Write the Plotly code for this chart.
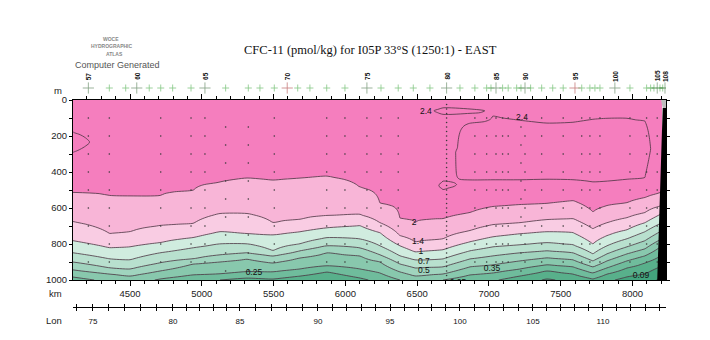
import numpy as np
import plotly.graph_objects as go

# ---------------- data ----------------
title_text = "CFC-11 (pmol/kg) for I05P 33°S (1250:1) - EAST"

# distance along the section (km) of the columns where isoline depths were read
col_km = [4103, 4361, 4500, 4709, 4939, 5127, 5315, 5496, 5684, 5872, 6102, 6241, 6380,
          6485, 6680, 6868, 7028, 7216, 7404, 7585, 7724, 7822, 7961, 8086, 8205]

# contour levels (pmol/kg)
levels = [0.05, 0.09, 0.15, 0.25, 0.35, 0.5, 0.7, 1.0, 1.4, 2.0, 2.4]

# depth (m) of each isoline at each column (values > 1000 lie below the plotted range)
d_2_0 = [514, 531, 536, 531, 503, 458, 436, 447, 436, 425, 486, 575, 659, 682, 659, 626, 592, 581, 575, 559, 620, 587, 570, 542, 514]
d_1_4 = [676, 743, 732, 698, 687, 631, 631, 682, 665, 643, 637, 682, 754, 788, 771, 726, 693, 682, 665, 659, 715, 682, 654, 626, 587]
d_1_0 = [782, 821, 816, 793, 765, 732, 743, 749, 732, 710, 698, 737, 810, 844, 832, 788, 760, 743, 732, 737, 799, 754, 721, 682, 631]
d_0_7 = [849, 883, 888, 849, 821, 799, 799, 838, 799, 765, 771, 810, 866, 888, 883, 838, 816, 805, 793, 805, 855, 810, 771, 732, 682]
d_0_5 = [900, 933, 939, 905, 883, 860, 849, 866, 838, 810, 821, 860, 911, 933, 927, 883, 866, 849, 838, 849, 894, 855, 816, 782, 726]
d_0_35 = [944, 967, 978, 950, 911, 900, 883, 905, 877, 849, 866, 900, 955, 978, 967, 927, 916, 894, 877, 888, 927, 894, 855, 827, 771]
d_0_25 = [983, 1011, 1022, 994, 972, 967, 955, 955, 939, 922, 939, 961, 1000, 1011, 1000, 972, 961, 939, 916, 927, 961, 933, 894, 866, 810]
d_0_15 = [1034, 1062, 1073, 1050, 1017, 1000, 989, 994, 978, 955, 989, 1017, 1050, 1062, 1050, 1017, 1006, 978, 950, 967, 994, 967, 933, 905, 860]
d_0_09 = [1089, 1117, 1129, 1106, 1067, 1050, 1039, 1045, 1028, 1006, 1039, 1067, 1101, 1112, 1101, 1067, 1056, 1022, 994, 1011, 1034, 1011, 983, 967, 922]
d_0_05 = [1145, 1173, 1184, 1162, 1117, 1101, 1089, 1095, 1078, 1056, 1089, 1117, 1151, 1162, 1151, 1117, 1106, 1073, 1045, 1062, 1078, 1056, 1028, 1006, 978]

# subsurface cores with CFC-11 > 2.4 (top / bottom depth in m, None = no core)
N = None
core_top = [179, N, N, N, N, N, N, N, N, N, N, N, N, N, 453, 128, 89, 112, 128, 123, 106, 101, 101, 117, N]
core_bot = [291, N, N, N, N, N, N, N, N, N, N, N, N, N, 497, 447, 447, 447, 441, 447, 458, 453, 441, 430, N]
core_peak = [2.7, N, N, N, N, N, N, N, N, N, N, N, N, N, 2.5, 2.55, 2.55, 2.55, 2.55, 2.55, 2.55, 2.55, 2.55, 2.6, N]
lens_top = [N] * 14 + [45, 50] + [N] * 9
lens_bot = [N] * 14 + [78, 73] + [N] * 9
surface_value = 2.3

# contour labels
label_text = ["2.4", "2.4", "2", "1.4", "1", "0.7", "0.5", "0.35", "0.25", "0.25", "0.09"]
label_km = [6561, 7230, 6478, 6506, 6526, 6547, 6547, 7021, 5363, 6784, 8059]
label_depth = [67, 101, 682, 787, 844, 899, 952, 939, 961, 1016, 978]

# stations along the track
station_num = list(range(57, 109))
station_km = [4210, 4356, 4470, 4547, 4634, 4714, 4797, 4925, 5022, 5166, 5324, 5405, 5505, 5595,
              5668, 5753, 5870, 5997, 6150, 6248, 6368, 6473, 6589, 6705, 6798, 6902, 6984, 7014,
              7049, 7095, 7134, 7193, 7223, 7251, 7290, 7367, 7444, 7517, 7599, 7646, 7703, 7738,
              7773, 7877, 7982, 8098, 8126, 8149, 8172, 8191, 8210, 8226]
labelled_stations = [57, 60, 65, 70, 75, 80, 85, 90, 95, 100, 105, 108]
red_stations = [70, 95]

# bottle samples (station numbers) and their depths (m)
sampled_a = [57, 58, 62, 64, 65, 69, 73, 74, 75, 76, 77, 82, 83, 85, 86, 87, 90, 92, 94, 96, 97, 99, 101, 102, 105]
sampled_b = [66, 67, 89]
depths_a = [100, 200, 300, 400, 500, 600, 700, 800, 900]
depths_b = [150, 250, 350, 450, 550, 650, 750, 850, 950]
dense_station = 80
dense_depths = [25, 50, 75, 100, 125, 150, 175, 200, 225, 250, 275, 300, 325, 350, 375, 400,
                425, 450, 475, 500, 525, 550, 575, 600, 625, 650, 675, 700, 725, 750, 775, 800,
                825, 850, 875, 900, 925, 950, 975, 1000]

# bottom topography at the east end (km, m)
bottom_km = [8210, 8172, 8260, 8260]
bottom_depth = [45, 1000, 1000, 45]
cap_km = [8198, 8260, 8260, 8210]
cap_depth = [0, 0, 45, 45]

# longitude axis (degrees E) and its position along the section (km)
lon_labels = ["75", "80", "85", "90", "95", "100", "105", "110"]
lon_vals = [75, 80, 85, 90, 95, 100, 105, 110]
lon_km = [4242, 4799, 5266, 5809, 6311, 6798, 7306, 7794]

x_range = [4103, 8233]

band_colors = ["#36986F", "#43A47D", "#58B08B", "#6FBC9C", "#88C8AD", "#A0D4BE",
               "#B8E0CE", "#D0ECDF", "#F9CCE3", "#F8B5D7", "#F57EBE", "#F57EBE"]

# ---------------- build the gridded field ----------------
iso_depths = [d_2_0, d_1_4, d_1_0, d_0_7, d_0_5, d_0_35, d_0_25, d_0_15, d_0_09, d_0_05]
iso_values = [2.0, 1.4, 1.0, 0.7, 0.5, 0.35, 0.25, 0.15, 0.09, 0.05]
depth_grid = np.arange(0, 1001, 10, dtype=float)


def column_profile(j):
    kd, kv = [0.0], [surface_value]
    cores = []
    if lens_top[j] is not None:
        cores.append((lens_top[j], lens_bot[j], 2.5))
    if core_top[j] is not None:
        cores.append((core_top[j], core_bot[j], core_peak[j]))
    for k, (t, b, p) in enumerate(cores):
        if k > 0:
            kd.append((cores[k - 1][1] + t) / 2.0)
            kv.append(surface_value)
        kd += [t, (t + b) / 2.0, b]
        kv += [2.4, p, 2.4]
    for dep, val in zip(iso_depths, iso_values):
        kd.append(dep[j])
        kv.append(val)
    kd.append(iso_depths[-1][j] + 300)
    kv.append(0.0)
    return np.interp(depth_grid, kd, kv)


z = np.column_stack([column_profile(j) for j in range(len(col_km))])
ext_levels = [0.0] + levels + [3.0]
z_idx = np.interp(z, ext_levels, np.arange(len(ext_levels), dtype=float))

nb = len(band_colors)
colorscale = [[k / (nb - 1), c] for k, c in enumerate(band_colors)]

# ---------------- figure ----------------
FIG_W, FIG_H = 710, 340
L, R, T, B = 73, 666, 60, 320   # paper area in pixels


def px_x(px):
    return (px - L) / (R - L)


def px_y(py):
    return (B - py) / (B - T)


fig = go.Figure()

fig.add_trace(go.Contour(
    x=col_km, y=depth_grid, z=z_idx,
    autocontour=False,
    contours=dict(start=1, end=len(levels), size=1, coloring="fill", showlines=True),
    colorscale=colorscale, showscale=False,
    line=dict(color="#4a3441", width=0.8, smoothing=0.8),
    hoverinfo="skip",
))

# bottle sample dots
st_km = dict(zip(station_num, station_km))
dx, dy = [], []
for s in sampled_a:
    dx += [st_km[s]] * len(depths_a)
    dy += depths_a
for s in sampled_b:
    dx += [st_km[s]] * len(depths_b)
    dy += depths_b
dx += [st_km[dense_station]] * len(dense_depths)
dy += dense_depths
fig.add_trace(go.Scatter(x=dx, y=dy, mode="markers",
                         marker=dict(size=1.6, color="#3a3a3a", line=dict(width=0)),
                         hoverinfo="skip"))

# contour labels
fig.add_trace(go.Scatter(x=label_km, y=label_depth, mode="text", text=label_text,
                         textfont=dict(family="Liberation Sans", size=8.5, color="#111"),
                         cliponaxis=True, hoverinfo="skip"))

# topography
fig.add_trace(go.Scatter(x=cap_km, y=cap_depth, fill="toself", mode="none",
                         fillcolor="#BDBDBD", hoverinfo="skip"))
fig.add_trace(go.Scatter(x=bottom_km, y=bottom_depth, fill="toself", mode="none",
                         fillcolor="#000000", hoverinfo="skip"))

# station markers
sizes = [8 if s in labelled_stations else 5 for s in station_num]
colors = ["#B04848" if s in red_stations else ("#4f7a4f" if s in labelled_stations else "#52b052")
          for s in station_num]
fig.add_trace(go.Scatter(x=station_km, y=[0] * len(station_km), yaxis="y2", mode="markers",
                         marker=dict(symbol="cross-thin", size=sizes, color=colors,
                                     line=dict(width=0.8, color=colors)),
                         hoverinfo="skip"))

# dummy traces to carry the longitude axes
fig.add_trace(go.Scatter(x=x_range, y=[0, 0], xaxis="x2", mode="none", hoverinfo="skip"))
fig.add_trace(go.Scatter(x=x_range, y=[0, 0], xaxis="x3", mode="none", hoverinfo="skip"))


def lon_to_km(lon):
    lon = np.asarray(lon, dtype=float)
    out = np.interp(lon, lon_vals, lon_km)
    lo = lon < lon_vals[0]
    out[lo] = lon_km[0] + (lon[lo] - lon_vals[0]) * (lon_km[1] - lon_km[0]) / (lon_vals[1] - lon_vals[0])
    hi = lon > lon_vals[-1]
    out[hi] = lon_km[-1] + (lon[hi] - lon_vals[-1]) * (lon_km[-1] - lon_km[-2]) / (lon_vals[-1] - lon_vals[-2])
    return out


minor_lon_km = [v for v in lon_to_km(np.arange(74, 115)) if x_range[0] < v < 8225]

tick_font = dict(family="Liberation Sans", size=9.5, color="#222")
lon_pos = px_y(307)

fig.update_layout(
    width=FIG_W, height=FIG_H,
    margin=dict(l=L, r=FIG_W - R, t=T, b=FIG_H - B, pad=0),
    paper_bgcolor="white", plot_bgcolor="white",
    showlegend=False,
    xaxis=dict(domain=[0, 1], range=x_range, anchor="y", showline=True, linecolor="black",
               linewidth=1, mirror="ticks", ticks="outside", ticklen=5, tickcolor="black",
               tick0=0, dtick=500, showgrid=False, zeroline=False, tickfont=tick_font,
               minor=dict(dtick=100, tick0=0, ticks="outside", ticklen=3, tickcolor="black")),
    yaxis=dict(domain=[px_y(280), px_y(100)], range=[1000, 0], anchor="x", showline=True,
               linecolor="black", linewidth=1, mirror="ticks", ticks="outside", ticklen=3,
               tickcolor="black", tick0=0, dtick=200, showgrid=False, zeroline=False,
               tickfont=tick_font,
               minor=dict(dtick=100, tick0=0, ticks="outside", ticklen=3, tickcolor="black")),
    yaxis2=dict(domain=[px_y(96), px_y(80)], range=[-1, 1], anchor="x", visible=False),
    xaxis2=dict(overlaying="x", anchor="free", position=lon_pos, side="bottom", range=x_range,
                showline=True, linecolor="black", linewidth=1, ticks="outside", ticklen=3,
                tickcolor="black", tickmode="array", tickvals=lon_km, ticktext=lon_labels,
                tickfont=dict(family="Liberation Sans", size=8, color="#111111"),
                ticklabelstandoff=3, showgrid=False, zeroline=False,
                minor=dict(tickmode="array", tickvals=minor_lon_km, ticks="outside", ticklen=3,
                           tickcolor="black")),
    xaxis3=dict(overlaying="x", anchor="free", position=lon_pos, side="bottom", range=x_range,
                showline=False, ticks="inside", ticklen=3, tickcolor="black", tickmode="array",
                tickvals=lon_km, showticklabels=False, showgrid=False, zeroline=False,
                minor=dict(tickmode="array", tickvals=minor_lon_km, ticks="inside", ticklen=3,
                           tickcolor="black")),
)

ann = []
ann.append(dict(text=title_text, x=px_x(370), y=px_y(50), xref="paper", yref="paper",
                showarrow=False, xanchor="center", yanchor="middle",
                font=dict(family="Liberation Serif", size=12.5, color="#111")))
ann.append(dict(text="Computer Generated", x=px_x(73), y=px_y(65), xref="paper", yref="paper",
                showarrow=False, xanchor="left", yanchor="middle",
                font=dict(family="Liberation Sans", size=9, color="#555")))
for txt, cx, cy in [("WOCE", 111, 39), ("HYDROGRAPHIC", 112, 46), ("ATLAS", 114, 54)]:
    ann.append(dict(text="<b>" + txt + "</b>", x=px_x(cx), y=px_y(cy), xref="paper", yref="paper",
                    showarrow=False, xanchor="center", yanchor="middle",
                    font=dict(family="Liberation Sans", size=5, color="#888")))
for txt, cy in [("m", 90), ("km", 293), ("Lon", 320)]:
    ann.append(dict(text=txt, x=px_x(64), y=px_y(cy), xref="paper", yref="paper",
                    showarrow=False, xanchor="right", yanchor="middle",
                    font=dict(family="Liberation Sans", size=9.5, color="#222")))
for s in labelled_stations:
    ann.append(dict(text="<b>" + str(s) + "</b>", x=st_km[s], y=px_y(76), xref="x", yref="paper",
                    showarrow=False, textangle=-90, xanchor="center", yanchor="middle",
                    font=dict(family="Liberation Sans", size=6.5, color="#111")))
fig.update_layout(annotations=ann)

fig.write_html("out.html")
